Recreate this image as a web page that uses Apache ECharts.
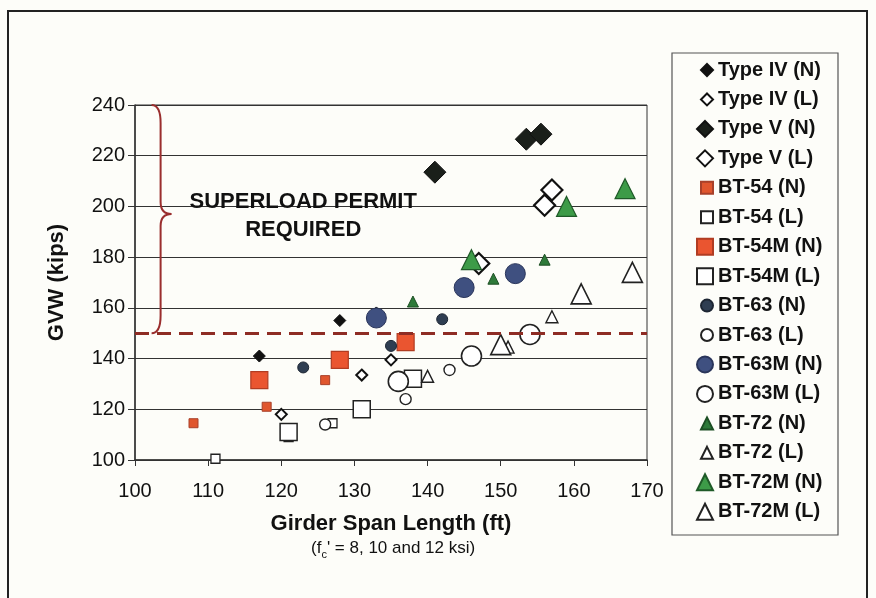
<!DOCTYPE html>
<html>
<head>
<meta charset="utf-8">
<script src="https://cdn.jsdelivr.net/npm/echarts@6/dist/echarts.min.js"></script>
<style>html,body{margin:0;padding:0;background:#fdfdf9;}#c{width:876px;height:598px;}</style>
</head>
<body>
<div id="c"></div>
<script>
// ---- data (span ft, GVW kips) ----
const seriesNames = ['Type IV (N)','Type IV (L)','Type V (N)','Type V (L)','BT-54 (N)','BT-54 (L)','BT-54M (N)','BT-54M (L)','BT-63 (N)','BT-63 (L)','BT-63M (N)','BT-63M (L)','BT-72 (N)','BT-72 (L)','BT-72M (N)','BT-72M (L)'];
const typeIV_N = [[117,141],[128,155],[133,158]];
const typeIV_L = [[120,118],[131,133.5],[135,139.5]];
const typeV_N  = [[141,213.5],[153.5,226.5],[155.5,228.5]];
const typeV_L  = [[147,177.5],[156,200.5],[157,206.5]];
const bt54_N   = [[108,114.5],[118,121],[126,131.5]];
const bt54_L   = [[111,100.5],[121,109],[127,114.5]];
const bt54M_N  = [[117,131.5],[128,139.5],[137,146.5]];
const bt54M_L  = [[121,111],[131,120],[138,132]];
const bt63_N   = [[123,136.5],[135,145],[142,155.5]];
const bt63_L   = [[126,114],[137,124],[143,135.5]];
const bt63M_N  = [[133,156],[145,168],[152,173.5]];
const bt63M_L  = [[136,131],[146,141],[154,149.5]];
const bt72_N   = [[138,162.5],[149,171.5],[156,179]];
const bt72_L   = [[140,133],[151,144.5],[157,156.5]];
const bt72M_N  = [[146,179],[159,200],[167,207]];
const bt72M_L  = [[150,145.5],[161,165.5],[168,174]];
const permitLimit = 150;
const brace = {x:103.5, top:240, tip:197, bottom:150};
const noteText = ['SUPERLOAD PERMIT','REQUIRED'];
const notePos = [123, 196.3];
const xTicks = {min:100, max:170, interval:10};
const yTicks = {min:100, max:240, interval:20};

// ---- styles ----
const FONT = '"Liberation Sans", Arial, sans-serif';
const allData = [typeIV_N,typeIV_L,typeV_N,typeV_L,bt54_N,bt54_L,bt54M_N,bt54M_L,bt63_N,bt63_L,bt63M_N,bt63M_L,bt72_N,bt72_L,bt72M_N,bt72M_L];
const styles = [
  {symbol:'diamond', size:12, color:'#111', border:'#111', bw:1},
  {symbol:'diamond', size:11, color:'#fff', border:'#111', bw:2},
  {symbol:'diamond', size:22, color:'#1a1f1a', border:'#111', bw:1},
  {symbol:'diamond', size:21, color:'#fff', border:'#111', bw:2.2},
  {symbol:'rect', size:9, color:'#e0562e', border:'#a8402a', bw:1},
  {symbol:'rect', size:9, color:'#fff', border:'#222', bw:1.3},
  {symbol:'rect', size:17, color:'#ea5530', border:'#b13c22', bw:1.2},
  {symbol:'rect', size:17, color:'#fff', border:'#222', bw:1.5},
  {symbol:'circle', size:11, color:'#2f3e52', border:'#1d2633', bw:1},
  {symbol:'circle', size:11, color:'#fff', border:'#222', bw:1.4},
  {symbol:'circle', size:20, color:'#3f5080', border:'#2a355a', bw:1},
  {symbol:'circle', size:20, color:'#fff', border:'#222', bw:1.6},
  {symbol:'triangle', size:11, color:'#2e7a3a', border:'#1d4f24', bw:1},
  {symbol:'triangle', size:12, color:'#fff', border:'#222', bw:1.4},
  {symbol:'triangle', size:20, color:'#3d9b48', border:'#1f5a28', bw:1.2},
  {symbol:'triangle', size:20, color:'#fff', border:'#222', bw:1.6}
];

const series = seriesNames.map((n,i)=>({
  name:n, type:'scatter', data:allData[i], symbol:styles[i].symbol, symbolSize:styles[i].size,
  itemStyle:{color:styles[i].color, borderColor:styles[i].border, borderWidth:styles[i].bw, opacity:1},
  emphasis:{disabled:true}, z:3
}));

// dashed permit line
series.unshift({
  type:'line', data:[], silent:true, z:2,
  markLine:{silent:true, symbol:'none', label:{show:false},
    lineStyle:{color:'#8e2c24', width:3, type:[14,8]},
    data:[{yAxis:permitLimit}]}
});
// brace + note
series.push({
  type:'custom', silent:true, z:4,
  data:[[brace.x, brace.top, brace.tip, brace.bottom]],
  renderItem:function(params, api){
    const t = api.coord([api.value(0), api.value(1)]);
    const m = api.coord([api.value(0), api.value(2)]);
    const b = api.coord([api.value(0), api.value(3)]);
    const x = t[0];
    const p = 'M'+(x-9)+' '+t[1]+' Q'+x+' '+t[1]+' '+x+' '+(t[1]+18)+
      ' L'+x+' '+(m[1]-12)+' Q'+x+' '+m[1]+' '+(x+11)+' '+m[1]+
      ' Q'+x+' '+m[1]+' '+x+' '+(m[1]+12)+
      ' L'+x+' '+(b[1]-18)+' Q'+x+' '+b[1]+' '+(x-9)+' '+b[1];
    const n = api.coord(notePos);
    return {type:'group', children:[
      {type:'path', shape:{pathData:p}, style:{fill:null, stroke:'#9a2e2e', lineWidth:2}},
      {type:'text', x:n[0], y:n[1], style:{text:noteText.join('\n'), align:'center', verticalAlign:'middle',
        font:'bold 22px '+FONT, fill:'#111', lineHeight:28}}
    ]};
  }
});

// legends: pairs
const legends = [];
const legTop0 = 70, legStep = 29.45, legTextX = 717;
for(let k=0;k<8;k++){
  const big = k%2===1;
  const w = big?16:12;
  legends.push({
    orient:'vertical', left:legTextX-5-w, top:legTop0-10+2*k*legStep, padding:0,
    itemWidth:w, itemHeight:w, itemGap:legStep-20, selectedMode:false,
    data:[seriesNames[2*k], seriesNames[2*k+1]],
    textStyle:{fontFamily:FONT, fontWeight:'bold', fontSize:20, lineHeight:20, color:'#111'}
  });
}

const chart = echarts.init(document.getElementById('c'), null, {renderer:'canvas'});
chart.setOption({
  backgroundColor:'#fdfdf9',
  animation:false,
  grid:{left:135, right:229, top:105, bottom:138, show:true, borderColor:'#333', borderWidth:1, backgroundColor:'transparent'},
  xAxis:{type:'value', min:xTicks.min, max:xTicks.max, interval:xTicks.interval,
    name:'Girder Span Length (ft)', nameLocation:'middle', nameGap:53,
    nameTextStyle:{fontFamily:FONT, fontWeight:'bold', fontSize:22, color:'#111'},
    axisLine:{show:true, lineStyle:{color:'#333', width:1.5}},
    axisTick:{show:true, length:6, lineStyle:{color:'#333'}},
    axisLabel:{fontFamily:FONT, fontSize:20, color:'#111', margin:21},
    splitLine:{show:false}},
  yAxis:{type:'value', min:yTicks.min, max:yTicks.max, interval:yTicks.interval,
    name:'GVW (kips)', nameLocation:'middle', nameGap:67,
    nameTextStyle:{fontFamily:FONT, fontWeight:'bold', fontSize:22, color:'#111'},
    axisLine:{show:true, lineStyle:{color:'#333', width:1.5}},
    axisTick:{show:true, length:7, lineStyle:{color:'#333'}},
    axisLabel:{fontFamily:FONT, fontSize:20, color:'#111', margin:10},
    splitLine:{show:true, lineStyle:{color:'#333', width:1}}},
  legend:legends,
  series:series,
  graphic:[
    {type:'rect', shape:{x:8, y:11, width:859, height:620}, style:{fill:null, stroke:'#222', lineWidth:2}, silent:true},
    {type:'rect', shape:{x:672, y:53, width:166, height:482}, style:{fill:'#fdfdf9', stroke:'#555', lineWidth:1.2}, silent:true, z:-1},
    {type:'text', left:311, top:540, silent:true,
      style:{rich:{a:{fontFamily:FONT, fontSize:17, fill:'#111', verticalAlign:'top', lineHeight:19},
                   s:{fontFamily:FONT, fontSize:11, fill:'#111', verticalAlign:'top', lineHeight:11, padding:[9,0,0,0]}},
             text:"{a|(f}{s|c}{a|' = 8, 10 and 12 ksi)}"}}
  ]
});
</script>
</body>
</html>
